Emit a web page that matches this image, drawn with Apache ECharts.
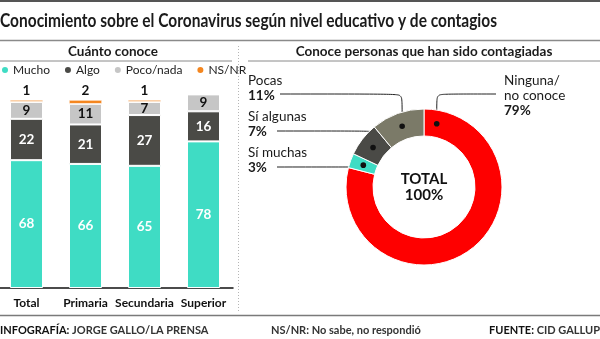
<!DOCTYPE html>
<html>
<head>
<meta charset="utf-8">
<script src="https://cdn.jsdelivr.net/npm/echarts@6/dist/echarts.min.js"></script>
<style>
  html, body { margin: 0; padding: 0; background: #ffffff; }
  #chart { width: 600px; height: 339px; }
</style>
</head>
<body>
<div id="chart"></div>
<script>
// Cuánto conoce: stacked shares by education level
const categories = ['Total', 'Primaria', 'Secundaria', 'Superior'];
const mucho = [68, 66, 65, 78];
const algo = [22, 21, 27, 16];
const pocoNada = [9, 11, 7, 9];
const nsnr = [1, 2, 1, null];

// Conoce personas que han sido contagiadas
const contactNames = ['Ninguna/\nno conoce', 'Sí muchas', 'Sí algunas', 'Pocas'];
const contactValues = [79, 3, 7, 11];

const headline = 'Conocimiento sobre el Coronavirus según nivel educativo y de contagios';

const FONT = 'Lato, "Noto Sans", sans-serif';
const C_TEAL = '#3fdcc4';
const C_DARK = '#4a4a46';
const C_LIGHT = '#c6c6c6';
const C_ORANGE = '#f4861f';
const C_RED = '#fe0000';
const C_OLIVE = '#7b7a68';

// headline is set in a condensed cut: squeeze it to its column width
const HEADLINE_FONT = 'bold 18px ' + FONT;
const HEADLINE_WIDTH = 497;
function headlineScale() {
  const ctx = document.createElement('canvas').getContext('2d');
  ctx.font = HEADLINE_FONT;
  const w = ctx.measureText(headline).width;
  return w > 0 ? Math.min(1, HEADLINE_WIDTH / w) : 1;
}

const pieCenter = [424, 187];
const pieRadius = [51, 78];
// where each callout's text block and leader line sit
const calloutSpots = [
  { x: 504, y: 73,  lineY: 94,  lineX: 496 },
  { x: 248, y: 145, lineY: 167, lineX: 277 },
  { x: 248, y: 109, lineY: 131, lineX: 277 },
  { x: 248, y: 73,  lineY: 94,  lineX: 280 }
];
// fraction along each slice where its leader line starts
const anchorShare = [0.04, 0.5, 0.5, 0.5];

function sliceAnchors() {
  const total = contactValues.reduce((a, b) => a + b, 0);
  const r = (pieRadius[0] + pieRadius[1]) / 2;
  let acc = 0;
  return contactValues.map((v, i) => {
    const ang = (acc + v * anchorShare[i]) / total * Math.PI * 2;
    acc += v;
    return [pieCenter[0] + r * Math.sin(ang), pieCenter[1] - r * Math.cos(ang)];
  });
}
const anchors = sliceAnchors();

const chart = echarts.init(document.getElementById('chart'), null, { renderer: 'canvas' });

const insideLabel = (color) => ({
  show: true,
  position: 'inside',
  color: color,
  fontFamily: FONT,
  fontWeight: 'bold',
  fontSize: 13.5
});

const option = {
  animation: false,
  backgroundColor: '#ffffff',
  textStyle: { fontFamily: FONT },
  title: [
    {
      text: 'Cuánto conoce',
      left: 113, top: 45, padding: 0, textAlign: 'center',
      textStyle: { fontFamily: FONT, fontWeight: 'bold', fontSize: 13.5, color: '#1b1b1b' }
    },
    {
      text: 'Conoce personas que han sido contagiadas',
      left: 424, top: 45, padding: 0, textAlign: 'center',
      textStyle: { fontFamily: FONT, fontWeight: 'bold', fontSize: 13.5, color: '#1b1b1b' }
    },
    {
      text: '{b|INFOGRAFÍA:} JORGE GALLO/LA PRENSA',
      left: 0, top: 325, padding: 0,
      textStyle: { fontFamily: FONT, fontSize: 11, color: '#333',
        rich: { b: { fontFamily: FONT, fontWeight: 'bold', fontSize: 11, color: '#111' } } }
    },
    {
      text: 'NS/NR: No sabe, no respondió',
      left: 271, top: 325, padding: 0,
      textStyle: { fontFamily: FONT, fontSize: 11, color: '#333' }
    },
    {
      text: '{b|FUENTE:} CID GALLUP',
      right: 0, top: 325, padding: 0,
      textStyle: { fontFamily: FONT, fontSize: 11, color: '#333',
        rich: { b: { fontFamily: FONT, fontWeight: 'bold', fontSize: 11, color: '#111' } } }
    }
  ],
  legend: {
    left: 0, top: 64, padding: 0,
    icon: 'circle', itemWidth: 8, itemHeight: 8, itemGap: 13,
    textStyle: { fontFamily: FONT, fontSize: 12, color: '#222', padding: [0, 0, 0, -1] },
    data: ['Mucho', 'Algo', 'Poco/nada', 'NS/NR']
  },
  grid: { left: -3, width: 236, top: 92.5, height: 195.5, containLabel: false, outerBoundsMode: 'none' },
  xAxis: {
    type: 'category',
    data: categories,
    axisLine: { lineStyle: { color: '#111', width: 1.5 } },
    axisTick: { show: false },
    axisLabel: {
      interval: 0, hideOverlap: false,
      fontFamily: FONT, fontWeight: 'bold', fontSize: 12, color: '#111', margin: 9
    }
  },
  yAxis: { type: 'value', min: 0, max: 104, show: false },
  series: [
    {
      name: 'Mucho', type: 'bar', stack: 'nivel', barWidth: 33, data: mucho,
      itemStyle: { color: C_TEAL, borderColor: '#fff', borderWidth: 1 },
      label: insideLabel('#ffffff')
    },
    {
      name: 'Algo', type: 'bar', stack: 'nivel', barWidth: 33, data: algo,
      itemStyle: { color: C_DARK, borderColor: '#fff', borderWidth: 1 },
      label: insideLabel('#ffffff')
    },
    {
      name: 'Poco/nada', type: 'bar', stack: 'nivel', barWidth: 33, data: pocoNada,
      itemStyle: { color: C_LIGHT, borderColor: '#fff', borderWidth: 1 },
      label: insideLabel('#111111')
    },
    {
      name: 'NS/NR', type: 'bar', stack: 'nivel', barWidth: 33, data: nsnr,
      itemStyle: { color: C_ORANGE, borderColor: '#fff', borderWidth: 0.6 },
      label: {
        show: true, position: 'top', distance: 2, color: '#111',
        fontFamily: FONT, fontWeight: 'bold', fontSize: 13.5
      }
    },
    {
      name: 'Contagiados', type: 'pie',
      center: pieCenter, radius: pieRadius,
      startAngle: 90, clockwise: true,
      avoidLabelOverlap: false,
      itemStyle: { borderColor: '#fff', borderWidth: 1 },
      color: [C_RED, C_TEAL, C_DARK, C_OLIVE],
      data: contactNames.map((n, i) => ({ name: n, value: contactValues[i] })),
      label: {
        show: true,
        position: 'outside',
        formatter: (p) => p.name.split('\n').map(t => '{n|' + t + '}').join('\n') + '\n{v|' + p.value + '%}',
        rich: {
          n: { fontFamily: FONT, fontSize: 13.5, color: '#1b1b1b', lineHeight: 15 },
          v: { fontFamily: FONT, fontSize: 13.5, fontWeight: 'bold', color: '#1b1b1b', lineHeight: 15 }
        }
      },
      labelLine: { show: true, smooth: 0.12, lineStyle: { color: '#222', width: 1 } },
      labelLayout: (params) => {
        const i = params.dataIndex;
        const s = calloutSpots[i];
        const p = anchors[i];
        return {
          x: s.x, y: s.y, align: 'left', verticalAlign: 'top',
          labelLinePoints: [p, [p[0], s.lineY], [s.lineX, s.lineY]]
        };
      },
      emphasis: { disabled: true }
    }
  ],
  graphic: [
    // headline
    {
      type: 'text', x: 0, y: 21, scaleX: headlineScale(), originX: 0, silent: true,
      style: {
        text: headline, font: HEADLINE_FONT, fill: '#1b1b1b',
        align: 'left', verticalAlign: 'middle'
      }
    },
    // rules and separators
    { type: 'rect', shape: { x: 0, y: 0, width: 600, height: 2 }, style: { fill: '#555' }, silent: true },
    { type: 'line', shape: { x1: 0, y1: 40.5, x2: 600, y2: 40.5 }, style: { stroke: '#8a8a8a', lineWidth: 1.5 }, silent: true },
    { type: 'line', shape: { x1: 0, y1: 61, x2: 232, y2: 61 }, style: { stroke: '#8a8a8a', lineWidth: 1 }, silent: true },
    { type: 'line', shape: { x1: 248, y1: 61, x2: 600, y2: 61 }, style: { stroke: '#8a8a8a', lineWidth: 1 }, silent: true },
    { type: 'line', shape: { x1: 238.5, y1: 46, x2: 238.5, y2: 312 }, style: { stroke: '#b5b5b5', lineWidth: 1, lineDash: [1, 2] }, silent: true },
    { type: 'line', shape: { x1: 0, y1: 315.5, x2: 600, y2: 315.5 }, style: { stroke: '#7a7a7a', lineWidth: 1.5 }, silent: true },
    // donut centre text
    {
      type: 'text', x: pieCenter[0], y: pieCenter[1], z: 100,
      style: {
        text: 'TOTAL\n100%', align: 'center', verticalAlign: 'middle',
        fontFamily: FONT, fontWeight: 'bold', fontSize: 15, lineHeight: 16, fill: '#111'
      }
    },
    // leader-line dots
    ...anchors.map(p => ({
      type: 'circle', z: 100, silent: true,
      shape: { cx: p[0], cy: p[1], r: 2.8 },
      style: { fill: '#111' }
    }))
  ]
};

chart.setOption(option);
</script>
</body>
</html>
